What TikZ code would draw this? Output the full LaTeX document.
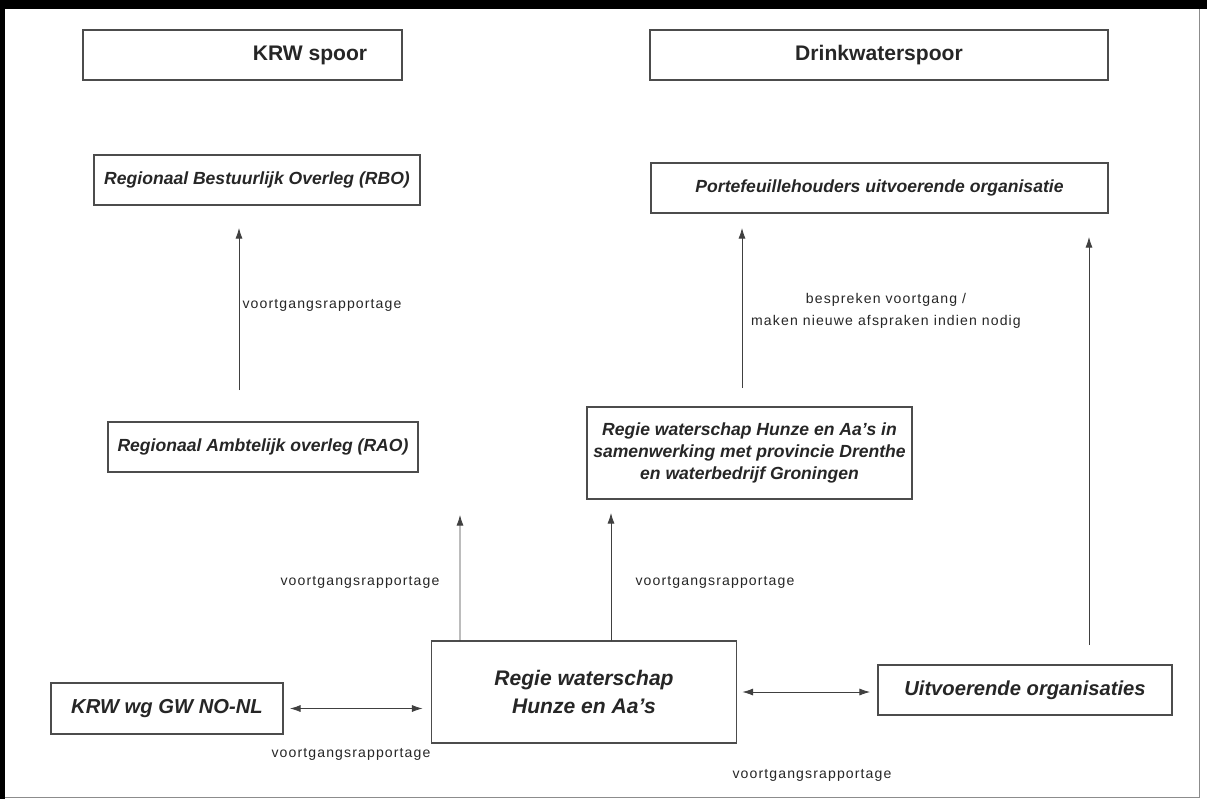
\documentclass[tikz,border=0pt]{standalone}
\usepackage{fontspec}
\setmainfont{Liberation Sans}
\newfontfamily\notefont[LetterSpace=8]{Liberation Sans}
\usetikzlibrary{arrows.meta}
\usetikzlibrary{positioning}

\begin{document}
\begin{tikzpicture}
        [x = 0.02cm, y = -0.02cm,
        box/.style = {rectangle, draw = black!70, line width = 0.9pt, inner sep = 2pt, outer sep = 0pt,
                      align = center, text = black!85, font = {\bfseries\itshape\fontsize{10}{12.5}\selectfont}},
        header/.style = {box, font = {\bfseries\fontsize{12}{14}\selectfont}},
        note/.style = {align = center, inner sep = 0pt, text = black!85, font = {\notefont\fontsize{8}{12.5}\selectfont}},
        >={Latex[length=6pt, width=4pt]}, line width = 0.45pt, draw = black!75]
        \useasboundingbox (0,0) rectangle (1207,799);
        % rand
        \fill[black] (0,0) rectangle (1207,9);
        \fill[black] (0,0) rectangle (5,799);
        \draw[black!45] (5,797) -- (1199,797) -- (1199,9);
        % sporen
        \node (krwspoor) [header, minimum width = 6.38cm, minimum height = 1cm] at (242.5,55) {};
        \node (krwtekst) [header, draw = none] at (310,55) {KRW spoor};
        \node (drinkspoor) [header, minimum width = 9.16cm, minimum height = 1cm] at (879,55) {Drinkwaterspoor};
        \node (rbo) [box, minimum width = 6.52cm, minimum height = 1cm] at (257,180) {Regionaal Bestuurlijk Overleg (RBO)};
        \node (portefeuille) [box, minimum width = 9.14cm, minimum height = 1cm] at (879.5,188) {Portefeuillehouders uitvoerende organisatie};
        \node (rao) [box, minimum width = 6.2cm, minimum height = 1cm] at (263,447) {Regionaal Ambtelijk overleg (RAO)};
        \node (samenwerking) [box, minimum width = 6.5cm, minimum height = 1.84cm] at (749.5,453)
            {Regie waterschap Hunze en Aa’s in\\samenwerking met provincie Drenthe\\en waterbedrijf Groningen};
        \node (krwwg) [box, font = {\bfseries\itshape\fontsize{11.5}{14}\selectfont}, minimum width = 4.64cm, minimum height = 1.02cm] at (167,708.5) {KRW wg GW NO-NL};
        \node (regie) [box, font = {\bfseries\itshape\fontsize{12}{16}\selectfont}, minimum width = 6.1cm, minimum height = 2.04cm] at (584,692) {Regie waterschap\\Hunze en Aa’s};
        \node (uitvoerend) [box, font = {\bfseries\itshape\fontsize{11.5}{14}\selectfont}, minimum width = 5.88cm, minimum height = 1cm] at (1025,690) {Uitvoerende organisaties};
        % pijlen
        \coordinate (rbovoet) at (239,390);
        \coordinate (raopunt) at (460,515);
        \draw[->, shorten >= 0.46cm] (rbovoet) -- (rbovoet |- rbo.south);
        \draw[->, shorten <= 0.38cm, shorten >= 0.3cm] ([xshift=-0.15cm]samenwerking.north) -- ([xshift=-0.15cm]samenwerking.north |- portefeuille.south);
        \draw[->, shorten <= 0.4cm, shorten >= 0.48cm] ([xshift=1.28cm]uitvoerend.north) -- ([xshift=1.28cm]uitvoerend.north |- portefeuille.south);
        \draw[->] ([xshift=-2.48cm]regie.north) -- (raopunt);
        \draw[->, shorten >= 0.28cm] ([xshift=0.54cm]regie.north) -- ([xshift=0.54cm]regie.north |- samenwerking.south);
        \draw[<->, shorten <= 0.14cm, shorten >= 0.18cm] (krwwg.east) -- (krwwg.east -| regie.west);
        \draw[<->, shorten <= 0.12cm, shorten >= 0.16cm] (regie.east) -- (regie.east -| uitvoerend.west);
        % teksten bij de pijlen
        \node (rbonoot) [note] at (322,305) {voortgangsrapportage};
        \node (raonoot) [note] at (360,582) {voortgangsrapportage};
        \node (samennoot) [note] at (715,582) {voortgangsrapportage};
        \node (wgnoot) [note] at (351,754) {voortgangsrapportage};
        \node (uitvnoot) [note] at (812,775) {voortgangsrapportage};
        \node (bespreken) [note] at (886,311) {bespreken voortgang /\\maken nieuwe afspraken indien nodig};
    \end{tikzpicture}
\end{document}
